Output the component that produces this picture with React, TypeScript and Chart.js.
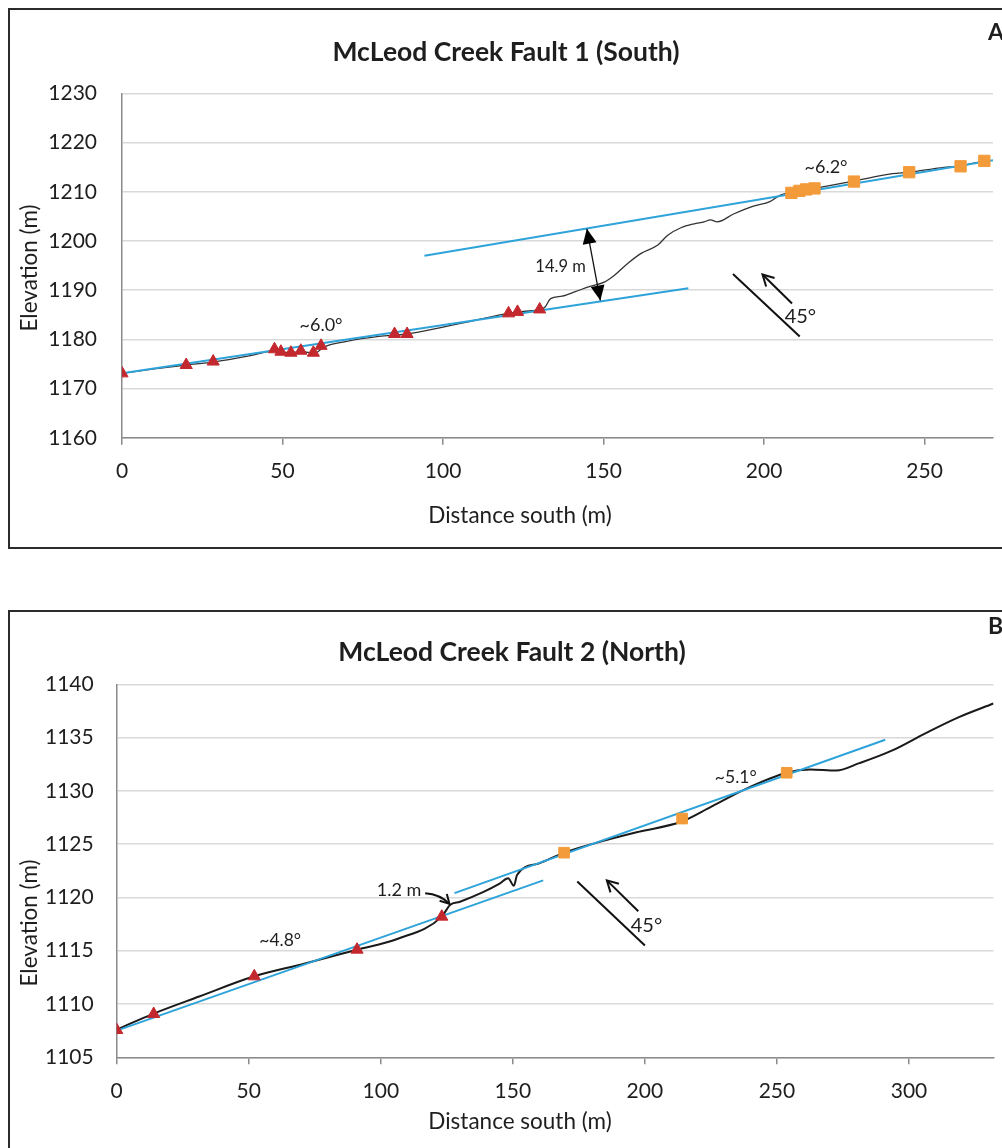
import React, { useEffect, useRef } from 'react';
import { Chart, registerables } from 'chart.js';

Chart.register(...registerables);

// ---------------- Panel A data (McLeod Creek Fault 1, South) ----------------
const A_TRI_X = [0, 20, 28.4, 47.5, 49.5, 52.6, 55.7, 59.6, 62, 84.9, 88.8, 120.4, 123.2, 130.1];
const A_TRI_Y = [1173.1, 1174.8, 1175.5, 1178.0, 1177.5, 1177.3, 1177.7, 1177.3, 1178.7, 1181.1, 1181.1, 1185.3, 1185.6, 1186.1];
const A_SQ_X = [208.5, 211, 213.1, 215.7, 228, 245.2, 261.2, 268.6];
const A_SQ_Y = [1209.8, 1210.2, 1210.5, 1210.7, 1212.1, 1214.0, 1215.2, 1216.3];
const A_PROF_X = [0, 10, 20, 28.4, 40, 47.5, 52, 56, 60, 63, 70, 80, 88.8, 100, 110, 120.4, 125, 130.5, 131.8, 133.5, 137.1, 141.2, 145.3, 150.4, 153.5, 157.6, 161.7, 166.9, 170, 174.1, 178.2, 181.3, 183.3, 185.4, 190.5, 196.7, 201.8, 204.9, 208.5, 211, 215.7, 228, 240, 245.2, 255, 261.2, 268.6];
const A_PROF_Y = [1173.1, 1174.0, 1174.8, 1175.4, 1176.7, 1177.7, 1177.3, 1177.5, 1177.2, 1178.5, 1179.6, 1180.6, 1181.1, 1182.5, 1183.9, 1185.3, 1185.7, 1186.1, 1186.6, 1188.3, 1188.8, 1189.7, 1190.7, 1191.7, 1193.1, 1195.5, 1197.5, 1199.2, 1201.2, 1202.7, 1203.5, 1203.9, 1204.3, 1203.9, 1205.5, 1207.1, 1208.0, 1209.3, 1209.9, 1210.2, 1210.7, 1212.2, 1213.7, 1214.0, 1214.9, 1215.3, 1216.3];
const A_FIT_LOW_X = [0, 176.4];
const A_FIT_LOW_Y = [1173.1, 1190.4];
const A_FIT_UP_X = [94.2, 272];
const A_FIT_UP_Y = [1197.0, 1216.5];
const A_X_TICKS = [0, 50, 100, 150, 200, 250];
const A_Y_TICKS = [1160, 1170, 1180, 1190, 1200, 1210, 1220, 1230];
const A_TITLE = 'McLeod Creek Fault 1 (South)';
const A_SLOPE_LABELS = ['~6.0°', '~6.2°'];
const A_OFFSET_LABEL = '14.9 m';

// ---------------- Panel B data (McLeod Creek Fault 2, North) ----------------
const B_TRI_X = [0, 14, 52.1, 91, 123.1];
const B_TRI_Y = [1107.56, 1109.06, 1112.6, 1115.1, 1118.2];
const B_SQ_X = [169.4, 214.1, 253.7];
const B_SQ_Y = [1124.2, 1127.4, 1131.7];
const B_PROF_X = [0, 14, 31.2, 52.1, 71.3, 91, 106.2, 123.1, 126.2, 130, 138.7, 145, 148.2, 150.4, 151.6, 160, 169.4, 181.2, 197.5, 213.7, 225, 237.5, 253.7, 262.5, 272.5, 281.2, 293.7, 306.2, 318.7, 332];
const B_PROF_Y = [1107.6, 1109.1, 1110.7, 1112.6, 1113.8, 1115.1, 1116.1, 1118.2, 1119.3, 1119.6, 1120.5, 1121.3, 1121.8, 1121.1, 1122.1, 1123.2, 1124.2, 1125.1, 1126.15, 1127.1, 1128.5, 1130.1, 1131.7, 1132.0, 1131.9, 1132.6, 1133.8, 1135.4, 1136.9, 1138.2];
const B_FIT_LOW_X = [0, 161.5];
const B_FIT_LOW_Y = [1107.5, 1121.6];
const B_FIT_UP_X = [127.9, 291];
const B_FIT_UP_Y = [1120.4, 1134.8];
const B_X_TICKS = [0, 50, 100, 150, 200, 250, 300];
const B_Y_TICKS = [1105, 1110, 1115, 1120, 1125, 1130, 1135, 1140];
const B_TITLE = 'McLeod Creek Fault 2 (North)';
const B_SLOPE_LABELS = ['~4.8°', '~5.1°'];
const B_OFFSET_LABEL = '1.2 m';

const X_TITLE = 'Distance south (m)';
const Y_TITLE = 'Elevation (m)';

const FONT = 'Lato, "Open Sans", sans-serif';
const BLUE = '#2ea3da';
const RED = '#c3282e';
const ORANGE = '#f39b3a';
const TXT = '#1e1e1e';

type Pt = [number, number];

function zip(xs: number[], ys: number[]) {
  return xs.map((x, i) => ({ x, y: ys[i] }));
}

function arrowHead(ctx: CanvasRenderingContext2D, from: Pt, to: Pt, len: number, half: number, filled: boolean) {
  const ang = Math.atan2(to[1] - from[1], to[0] - from[0]);
  const bx = to[0] - Math.cos(ang) * len;
  const by = to[1] - Math.sin(ang) * len;
  const px = -Math.sin(ang) * half;
  const py = Math.cos(ang) * half;
  ctx.beginPath();
  ctx.moveTo(bx + px, by + py);
  ctx.lineTo(to[0], to[1]);
  ctx.lineTo(bx - px, by - py);
  if (filled) {
    ctx.closePath();
    ctx.fill();
  } else {
    ctx.stroke();
  }
}

function line(ctx: CanvasRenderingContext2D, a: Pt, b: Pt, w: number, color: string) {
  ctx.save();
  ctx.strokeStyle = color;
  ctx.lineWidth = w;
  ctx.beginPath();
  ctx.moveTo(a[0], a[1]);
  ctx.lineTo(b[0], b[1]);
  ctx.stroke();
  ctx.restore();
}

function text(ctx: CanvasRenderingContext2D, s: string, x: number, y: number, size: number, bold = false, align: CanvasTextAlign = 'center', rot = 0) {
  ctx.save();
  ctx.fillStyle = TXT;
  ctx.font = `${bold ? 'bold ' : ''}${size}px ${FONT}`;
  ctx.textAlign = align;
  ctx.textBaseline = 'middle';
  ctx.translate(x, y);
  if (rot) ctx.rotate(rot);
  ctx.fillText(s, 0, 0);
  ctx.restore();
}

type PanelSpec = {
  height: number;
  areaTop: number;
  areaBottom: number;
  yAxisWidth: number;
  xMin: number;
  xMax: number;
  yMin: number;
  yMax: number;
  xTicks: number[];
  yTicks: number[];
  yTickPad: number;
  xTickPad: number;
  profile: { x: number; y: number }[];
  profileWidth: number;
  profileColor: string;
  fitLow: { x: number; y: number }[];
  fitUp: { x: number; y: number }[];
  tri: { x: number; y: number }[];
  sq: { x: number; y: number }[];
  sqRadius: number;
  box: [number, number, number, number];
  decorate: (ctx: CanvasRenderingContext2D, P: (x: number, y: number) => Pt) => void;
  chrome: (ctx: CanvasRenderingContext2D) => void;
};

function build(canvas: HTMLCanvasElement, p: PanelSpec) {
  const plugin = {
    id: 'decor',
    beforeDraw(chart: any) {
      const ctx = chart.ctx as CanvasRenderingContext2D;
      ctx.save();
      ctx.fillStyle = '#ffffff';
      ctx.fillRect(0, 0, chart.width, chart.height);
      ctx.restore();
    },
    afterDraw(chart: any) {
      const ctx = chart.ctx as CanvasRenderingContext2D;
      const sx = chart.scales.x;
      const sy = chart.scales.y;
      const P = (x: number, y: number): Pt => [sx.getPixelForValue(x), sy.getPixelForValue(y)];
      p.decorate(ctx, P);
      p.chrome(ctx);
      ctx.save();
      ctx.strokeStyle = '#2b2b2b';
      ctx.lineWidth = 2;
      ctx.strokeRect(p.box[0], p.box[1], p.box[2], p.box[3]);
      ctx.restore();
    },
  };

  return new Chart(canvas, {
    type: 'scatter',
    data: {
      datasets: [
        {
          data: p.tri,
          showLine: false,
          pointStyle: 'triangle',
          pointRadius: 7,
          pointBackgroundColor: RED,
          pointBorderColor: RED,
          pointBorderWidth: 1,
          order: 0,
        },
        {
          data: p.sq,
          showLine: false,
          pointStyle: 'rect',
          pointRadius: p.sqRadius,
          pointBackgroundColor: ORANGE,
          pointBorderColor: ORANGE,
          pointBorderWidth: 1,
          order: 0,
        },
        {
          data: p.fitLow,
          showLine: true,
          borderColor: BLUE,
          borderWidth: 2,
          pointRadius: 0,
          order: 1,
        },
        {
          data: p.fitUp,
          showLine: true,
          borderColor: BLUE,
          borderWidth: 2,
          pointRadius: 0,
          order: 1,
        },
        {
          data: p.profile,
          showLine: true,
          borderColor: p.profileColor,
          borderWidth: p.profileWidth,
          pointRadius: 0,
          cubicInterpolationMode: 'monotone',
          order: 2,
        },
      ],
    } as any,
    options: {
      responsive: false,
      animation: false,
      events: [],
      layout: { padding: { top: p.areaTop, left: 0, right: 0, bottom: 0 } },
      plugins: {
        legend: { display: false },
        tooltip: { enabled: false },
        title: { display: false },
      },
      scales: {
        x: {
          type: 'linear',
          min: p.xMin,
          max: p.xMax,
          afterFit: (s: any) => {
            s.height = p.height - p.areaBottom;
          },
          afterBuildTicks: (s: any) => {
            s.ticks = p.xTicks.map((v) => ({ value: v }));
          },
          ticks: {
            color: TXT,
            font: { family: FONT, size: 21 },
            padding: p.xTickPad,
            maxRotation: 0,
            autoSkip: false,
            callback: (v: any) => String(v),
          },
          grid: {
            drawOnChartArea: false,
            drawTicks: true,
            tickLength: 7,
            color: '#8a8a8a',
            lineWidth: 1.5,
          },
          border: { display: true, color: '#8a8a8a', width: 1.5 },
        },
        y: {
          type: 'linear',
          min: p.yMin,
          max: p.yMax,
          afterFit: (s: any) => {
            s.width = p.yAxisWidth;
          },
          afterBuildTicks: (s: any) => {
            s.ticks = p.yTicks.map((v) => ({ value: v }));
          },
          ticks: {
            color: TXT,
            font: { family: FONT, size: 21 },
            padding: p.yTickPad,
            autoSkip: false,
            callback: (v: any) => String(v),
          },
          grid: {
            color: '#d9d9d9',
            lineWidth: 1.5,
            drawTicks: false,
          },
          border: { display: true, color: '#8a8a8a', width: 1.5 },
        },
      },
    } as any,
    plugins: [plugin],
  });
}

const specA: PanelSpec = {
  height: 580,
  areaTop: 93.5,
  areaBottom: 437.8,
  yAxisWidth: 122,
  xMin: 0,
  xMax: 271.3,
  yMin: 1160,
  yMax: 1230,
  xTicks: A_X_TICKS,
  yTicks: A_Y_TICKS,
  yTickPad: 25,
  xTickPad: 14,
  profile: zip(A_PROF_X, A_PROF_Y),
  profileWidth: 1.3,
  profileColor: '#333333',
  fitLow: zip(A_FIT_LOW_X, A_FIT_LOW_Y),
  fitUp: zip(A_FIT_UP_X, A_FIT_UP_Y),
  tri: zip(A_TRI_X, A_TRI_Y),
  sq: zip(A_SQ_X, A_SQ_Y),
  sqRadius: 8,
  box: [9, 9, 1200, 539],
  decorate: (ctx, P) => {
    // offset dimension arrow
    const a = P(144.8, 1202.5);
    const b = P(149, 1187.9);
    line(ctx, a, b, 1.3, '#111');
    ctx.save();
    ctx.fillStyle = '#000';
    arrowHead(ctx, b, a, 15, 7, true);
    arrowHead(ctx, a, b, 15, 7, true);
    ctx.restore();
    const t = P(136.6, 1194.7);
    text(ctx, A_OFFSET_LABEL, t[0], t[1], 16.5);
    const s1 = P(62, 1182.9);
    text(ctx, A_SLOPE_LABELS[0], s1[0], s1[1], 18);
    const s2 = P(219.3, 1215.1);
    text(ctx, A_SLOPE_LABELS[1], s2[0], s2[1], 18);
    // fault dip symbol
    line(ctx, P(190.3, 1193.3), P(211.1, 1180.6), 2, '#111');
    const ft = P(208.7, 1187.3);
    const fh = P(199.5, 1193.2);
    line(ctx, ft, fh, 2, '#111');
    ctx.save();
    ctx.strokeStyle = '#111';
    ctx.lineWidth = 2;
    arrowHead(ctx, ft, fh, 11, 6, false);
    ctx.restore();
    const d = P(211.3, 1184.7);
    text(ctx, '45°', d[0], d[1], 20);
  },
  chrome: (ctx) => {
    text(ctx, A_TITLE, 506, 52, 26.5, true);
    text(ctx, 'A', 988, 33, 23, true, 'left');
    text(ctx, X_TITLE, 520, 516, 22.5);
    text(ctx, Y_TITLE, 30, 268, 22.5, false, 'center', -Math.PI / 2);
  },
};

const specB: PanelSpec = {
  height: 568,
  areaTop: 104.3,
  areaBottom: 477.3,
  yAxisWidth: 116.7,
  xMin: 0,
  xMax: 332,
  yMin: 1105,
  yMax: 1140,
  xTicks: B_X_TICKS,
  yTicks: B_Y_TICKS,
  yTickPad: 23,
  xTickPad: 14,
  profile: zip(B_PROF_X, B_PROF_Y),
  profileWidth: 2,
  profileColor: '#1a1a1a',
  fitLow: zip(B_FIT_LOW_X, B_FIT_LOW_Y),
  fitUp: zip(B_FIT_UP_X, B_FIT_UP_Y),
  tri: zip(B_TRI_X, B_TRI_Y),
  sq: zip(B_SQ_X, B_SQ_Y),
  sqRadius: 7.5,
  box: [9, 31, 1200, 1200],
  decorate: (ctx, P) => {
    const s1 = P(61.9, 1116.0);
    text(ctx, B_SLOPE_LABELS[0], s1[0], s1[1], 17.5);
    const s2 = P(234.4, 1131.3);
    text(ctx, B_SLOPE_LABELS[1], s2[0], s2[1], 17.5);
    const t = P(106.9, 1120.7);
    text(ctx, B_OFFSET_LABEL, t[0], t[1], 18);
    // curved arrow to scarp
    const a = P(116.8, 1120.4);
    const c = P(122.5, 1120.3);
    const b = P(126.0, 1119.4);
    ctx.save();
    ctx.strokeStyle = '#111';
    ctx.fillStyle = '#111';
    ctx.lineWidth = 2;
    ctx.beginPath();
    ctx.moveTo(a[0], a[1]);
    ctx.quadraticCurveTo(c[0], c[1], b[0], b[1]);
    ctx.stroke();
    arrowHead(ctx, c, b, 9, 5, false);
    ctx.restore();
    // fault dip symbol
    line(ctx, P(174.4, 1121.5), P(200, 1115.5), 2, '#111');
    const ft = P(197.5, 1118.7);
    const fh = P(185.6, 1121.6);
    line(ctx, ft, fh, 2, '#111');
    ctx.save();
    ctx.strokeStyle = '#111';
    ctx.lineWidth = 2;
    arrowHead(ctx, ft, fh, 11, 6, false);
    ctx.restore();
    const d = P(200.6, 1117.4);
    text(ctx, '45°', d[0], d[1], 20);
  },
  chrome: (ctx) => {
    text(ctx, B_TITLE, 512, 72, 26.5, true);
    text(ctx, 'B', 988, 47, 23, true, 'left');
    text(ctx, X_TITLE, 520, 542, 22.5);
    text(ctx, Y_TITLE, 30, 343, 22.5, false, 'center', -Math.PI / 2);
  },
};

export default function App() {
  const refA = useRef<HTMLCanvasElement | null>(null);
  const refB = useRef<HTMLCanvasElement | null>(null);

  useEffect(() => {
    const charts: Chart[] = [];
    if (refA.current) charts.push(build(refA.current, specA));
    if (refB.current) charts.push(build(refB.current, specB));
    return () => {
      charts.forEach((c) => c.destroy());
    };
  }, []);

  return (
    <div
      style={{
        position: 'absolute',
        left: 0,
        top: 0,
        width: 1002,
        height: 1148,
        overflow: 'hidden',
        background: '#fff',
      }}
    >
      <canvas ref={refA} width={1002} height={580} style={{ position: 'absolute', left: 0, top: 0 }} />
      <canvas ref={refB} width={1002} height={568} style={{ position: 'absolute', left: 0, top: 580 }} />
    </div>
  );
}
